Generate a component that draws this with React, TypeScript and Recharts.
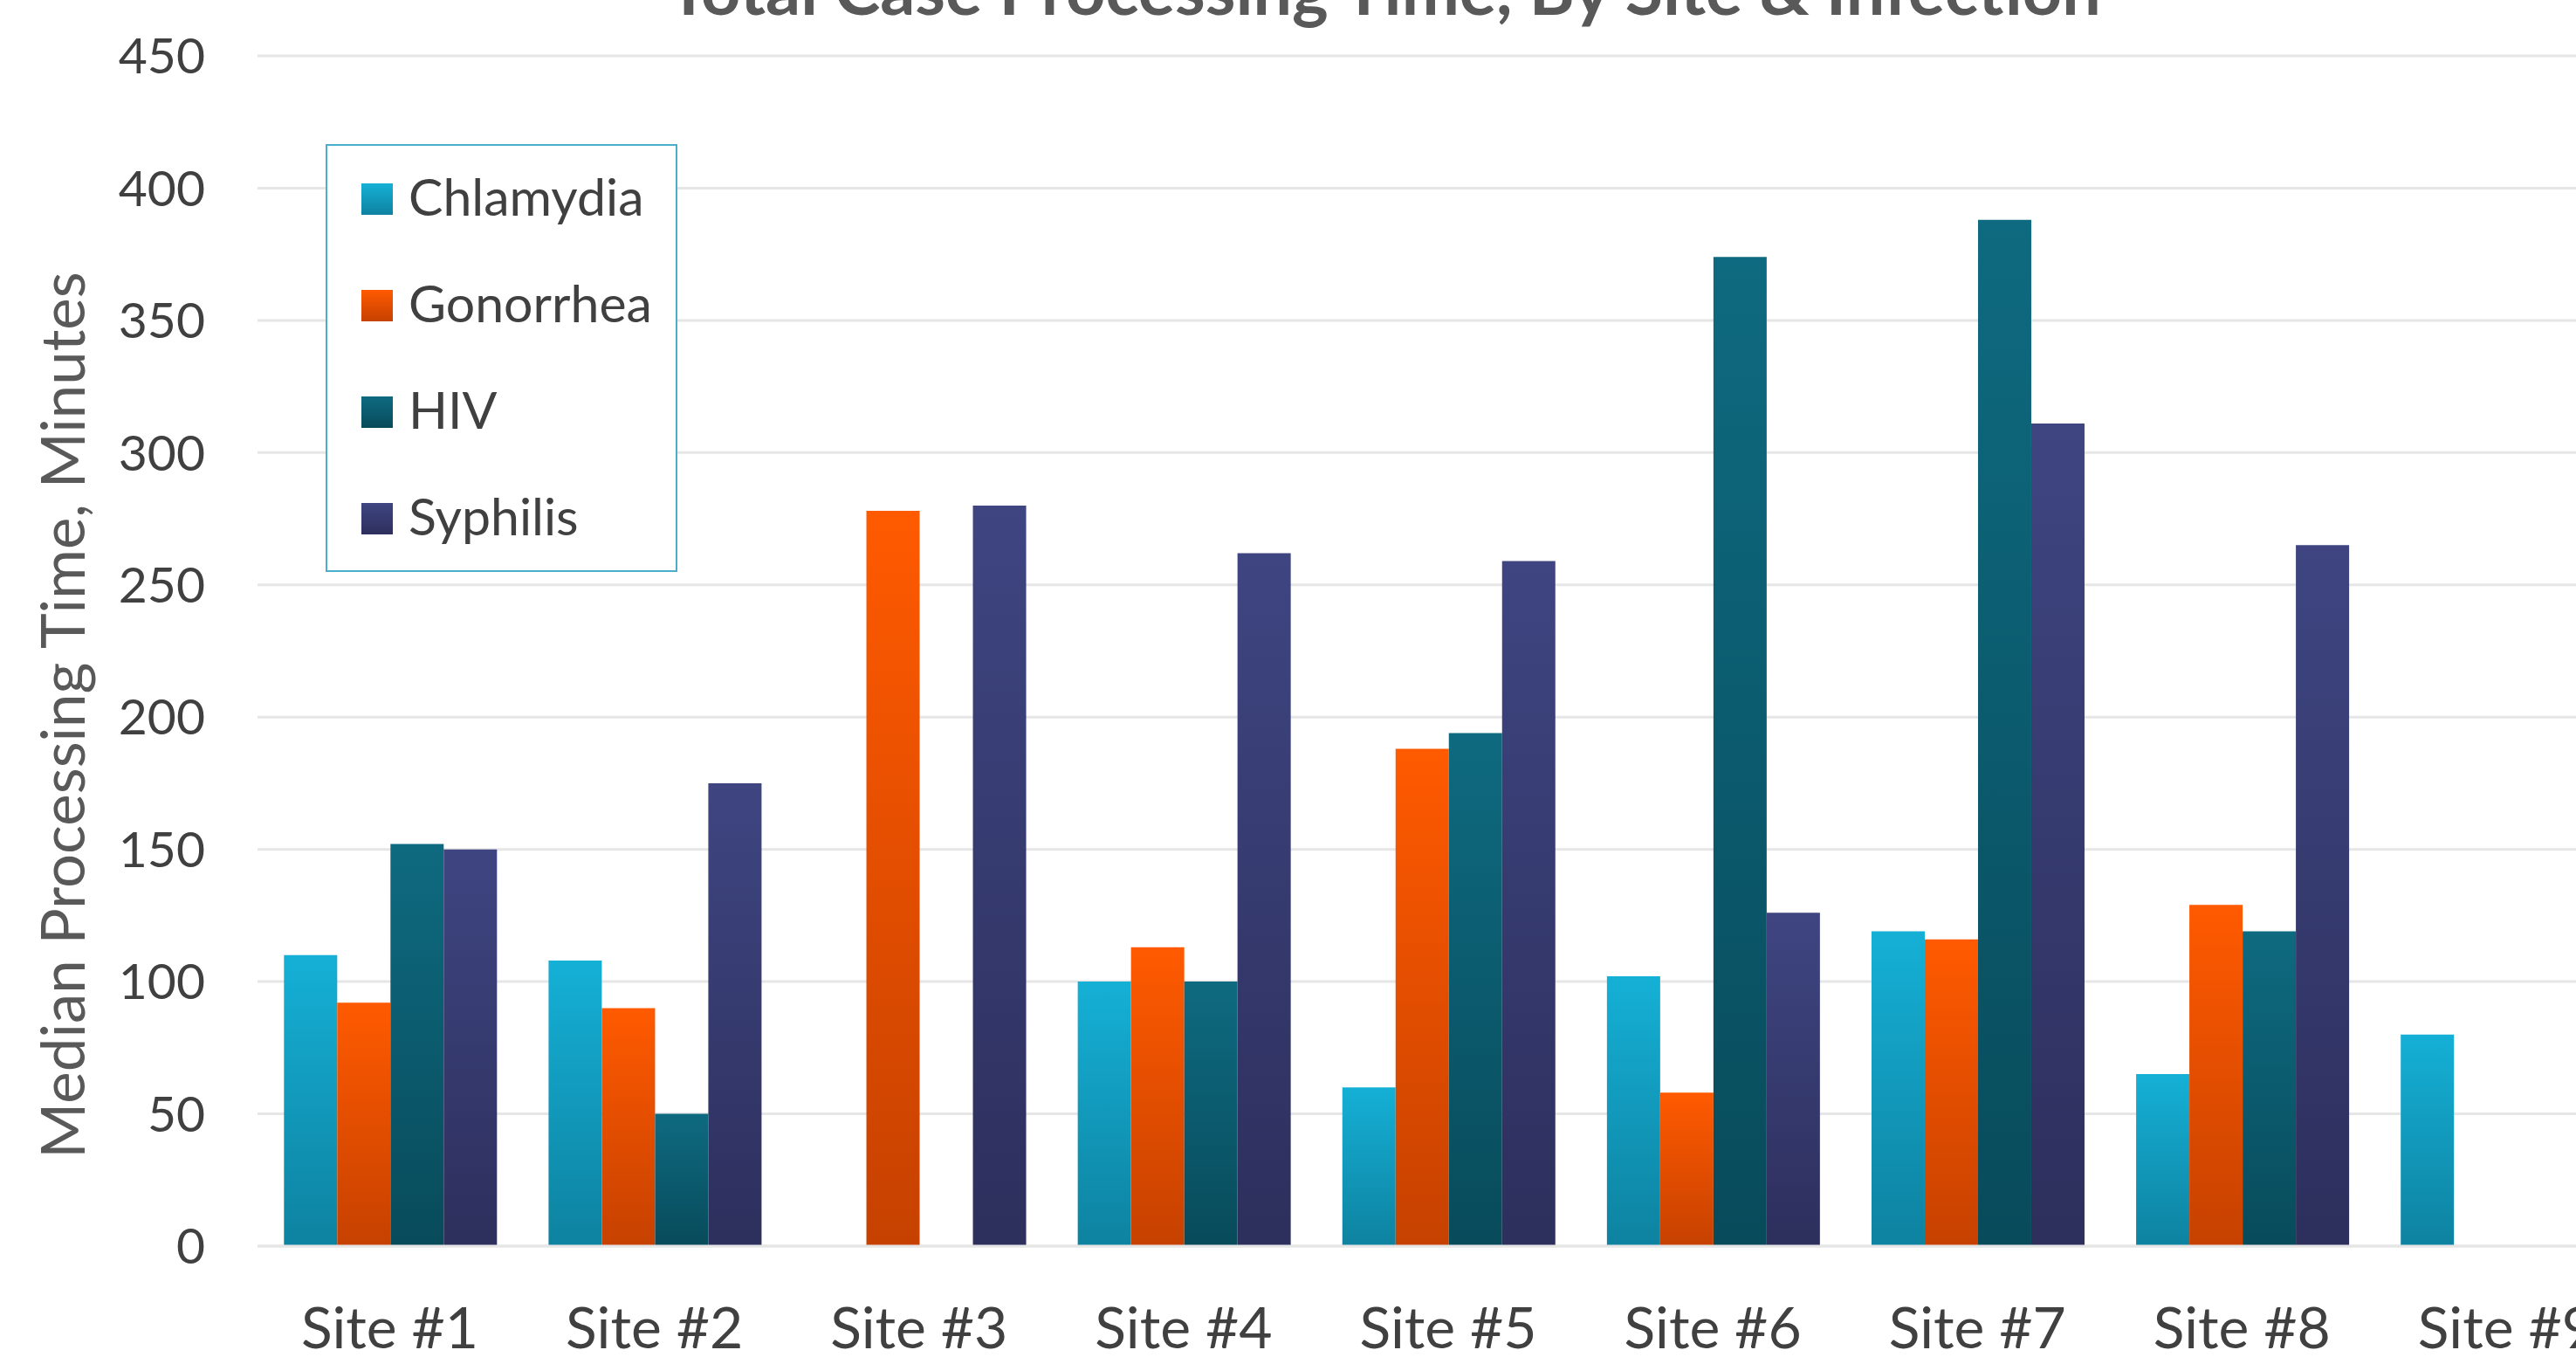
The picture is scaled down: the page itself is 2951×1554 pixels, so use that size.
import { BarChart, Bar, XAxis, YAxis, CartesianGrid } from 'recharts';

const sites = ['Site #1', 'Site #2', 'Site #3', 'Site #4', 'Site #5', 'Site #6', 'Site #7', 'Site #8', 'Site #9'];
const chlamydia = [110, 108, null, 100, 60, 102, 119, 65, 80];
const gonorrhea = [92, 90, 278, 113, 188, 58, 116, 129, null];
const hiv = [152, 50, null, 100, 194, 374, 388, 119, null];
const syphilis = [150, 175, 280, 262, 259, 126, 311, 265, null];
const yTicks = [0, 50, 100, 150, 200, 250, 300, 350, 400, 450];

const series = [
    { key: 'chlamydia', name: 'Chlamydia', top: '#15B0D6', bottom: '#0E82A0' },
    { key: 'gonorrhea', name: 'Gonorrhea', top: '#FF5A00', bottom: '#C64100' },
    { key: 'hiv', name: 'HIV', top: '#0E6A80', bottom: '#084B5B' },
    { key: 'syphilis', name: 'Syphilis', top: '#3E4581', bottom: '#2D2F5C' },
];

const data = sites.map((site, i) => ({
    site,
    chlamydia: chlamydia[i],
    gonorrhea: gonorrhea[i],
    hiv: hiv[i],
    syphilis: syphilis[i],
}));

const FONT = 'Lato, "Open Sans", sans-serif';

function LegendBox() {
    return (
        <div style={{
            position: 'absolute', left: 373, top: 165, width: 399, height: 486,
            border: '2px solid #4BAFCB', background: '#fff', fontFamily: FONT,
        }}>
            {series.map((s, i) => (
                <div key={s.key} style={{ position: 'absolute', left: 39, top: 28 + i * 122, height: 60, display: 'flex', alignItems: 'center' }}>
                    <div style={{ width: 36, height: 36, background: `linear-gradient(${s.top}, ${s.bottom})`, marginTop: 6 }} />
                    <span style={{ marginLeft: 18, fontSize: 59, color: '#404040', lineHeight: '60px' }}>{s.name}</span>
                </div>
            ))}
        </div>
    );
}

export default function App() {
    return (
        <div style={{ position: 'fixed', left: 0, top: 0, width: 2951, height: 1554, overflow: 'hidden', background: '#fff' }}>
            <BarChart
                width={3100}
                height={1554}
                data={data}
                margin={{ top: 64, right: 77, bottom: 0, left: 0 }}
                barCategoryGap="10%"
                barGap={0}
            >
                <defs>
                    {series.map((s) => (
                        <linearGradient key={s.key} id={`grad-${s.key}`} x1="0" y1="0" x2="0" y2="1">
                            <stop offset="0%" stopColor={s.top} />
                            <stop offset="100%" stopColor={s.bottom} />
                        </linearGradient>
                    ))}
                </defs>
                <CartesianGrid vertical={false} stroke="#E6E6E6" strokeWidth={3} />
                <XAxis
                    dataKey="site"
                    height={127}
                    axisLine={{ stroke: '#E6E6E6', strokeWidth: 3 }}
                    tickLine={false}
                    tickSize={0}
                    tickMargin={70}
                    interval={0}
                    tick={{ fontSize: 66, fill: '#404040', fontFamily: FONT }}
                />
                <YAxis
                    width={295}
                    domain={[0, 450]}
                    ticks={yTicks}
                    axisLine={false}
                    tickLine={false}
                    tickSize={0}
                    tickMargin={60}
                    tick={{ fontSize: 57, fill: '#404040', fontFamily: FONT }}
                />
                {series.map((s) => (
                    <Bar key={s.key} dataKey={s.key} name={s.name} fill={`url(#grad-${s.key})`} isAnimationActive={false} />
                ))}
            </BarChart>
            <svg width={2951} height={1554} style={{ position: 'absolute', left: 0, top: 0, pointerEvents: 'none' }}>
                <text x={1586} y={17} textAnchor="middle" fontFamily={FONT} fontWeight={700} fontSize={79} fill="#595959">
                    Total Case Processing Time, By Site &amp; Infection
                </text>
                <text x={70} y={819} transform="rotate(-90 70 819)" textAnchor="middle" dominantBaseline="central" fontFamily={FONT} fontSize={69} fill="#595959">
                    Median Processing Time, Minutes
                </text>
            </svg>
            <LegendBox />
        </div>
    );
}
